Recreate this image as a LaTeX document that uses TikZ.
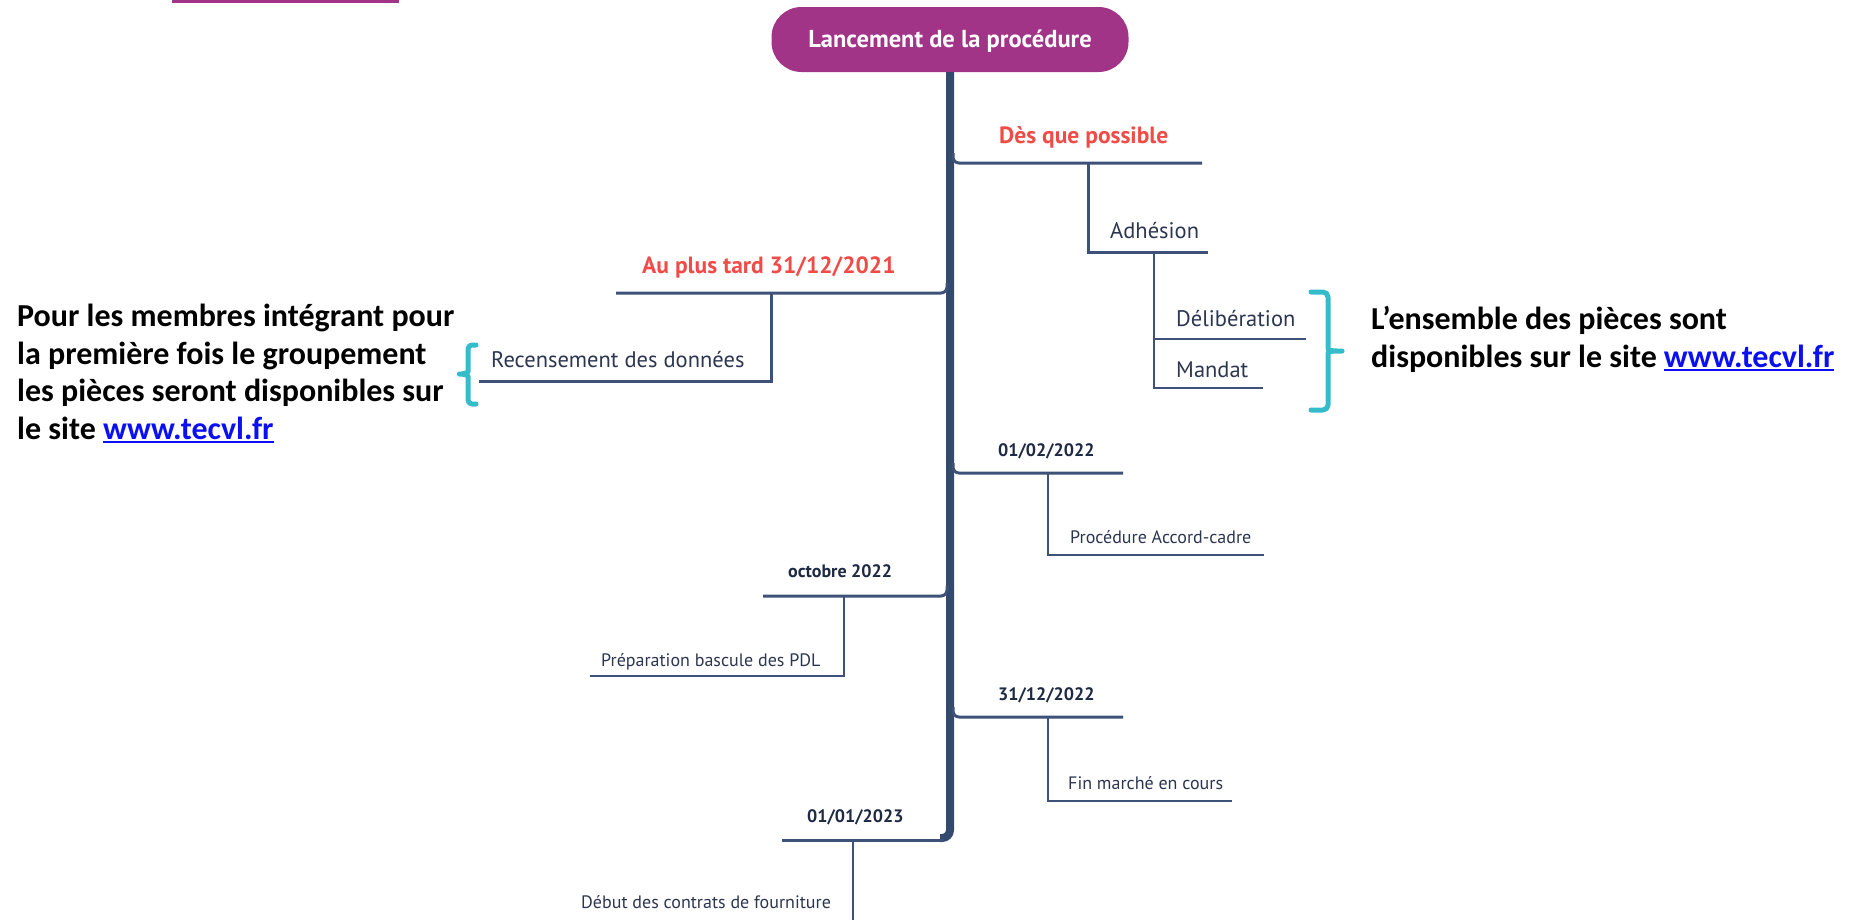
\documentclass[tikz,border=0pt]{standalone}
\usepackage{fontspec}
\setmainfont{PT Sans}
\newfontfamily\notefont{Carlito}
\definecolor{purp}{HTML}{A23488}
\definecolor{navy}{HTML}{34496E}
\definecolor{lnav}{HTML}{3E5279}
\definecolor{redt}{HTML}{F04B47}
\definecolor{dtxt}{HTML}{1E2A44}
\definecolor{rtxt}{HTML}{2C3650}
\definecolor{cyanb}{HTML}{35BCCB}
\definecolor{linkb}{HTML}{0A10F2}
\newcommand\ulink[1]{\textcolor{linkb}{\setbox0\hbox{#1}\rlap{\rule[-4pt]{\wd0}{2pt}}\box0}}
\begin{document}
\begin{tikzpicture}[x=1pt,y=-1pt,
  lbl/.style={inner sep=0pt, anchor=base west},
  titlebox/.style={fill=purp, rounded corners=30pt, minimum width=357pt, minimum height=65pt,
    inner sep=0pt, text=white, text height=16pt, text depth=0pt, font=\bfseries\fontsize{24.5}{28}\selectfont},
  redlbl/.style={lbl, text=redt, font=\bfseries\fontsize{23.5}{27}\selectfont},
  midlbl/.style={lbl, text=rtxt, font=\fontsize{22.5}{26}\selectfont},
  datelbl/.style={lbl, text=dtxt, font=\bfseries\fontsize{18}{21}\selectfont},
  smalllbl/.style={lbl, text=rtxt, font=\fontsize{18}{21}\selectfont},
  notelbl/.style={inner sep=0pt, anchor=base west, align=left, text=black,
    font=\notefont\bfseries\fontsize{32}{37.5}\selectfont},
  trunk/.style={draw=navy, line width=8pt},
  br1/.style={draw=lnav, line width=3pt},
  br2/.style={draw=lnav, line width=2.5pt},
  br3/.style={draw=lnav, line width=2pt},
  brace/.style={draw=cyanb, line width=5pt, line cap=round, line join=round, rounded corners=5pt}
]
\useasboundingbox (0,0) rectangle (1857,919);
\fill[purp] (172,0) rectangle (399,3);

% root
\node[titlebox] (root) at (950,39.5) {Lancement de la procédure};
\coordinate (tkB) at (950,838);
\coordinate (tkC) at (940,838);
\draw[trunk, rounded corners=8pt] (root.south) -- (tkB) -- (tkC);

% ---- Dès que possible
\coordinate (a0) at (953,163); \coordinate (a1) at (1202,163);
\coordinate (a2) at (1088,163); \coordinate (a3) at (1088,252); \coordinate (a4) at (1208,252);
\coordinate (b0) at (1154,252); \coordinate (b1) at (1154,388); \coordinate (b2) at (1263,388);
\coordinate (b3) at (1154,339); \coordinate (b4) at (1306,339);
\draw[br1, rounded corners=6pt] ([yshift=10pt]a0) -- (a0) -- (a1);
\draw[br1] (a2) -- (a3) -- (a4);
\draw[br3] (b0) -- (b1) -- (b2);
\draw[br3] (b3) -- (b4);
\node[redlbl] (dqp) at (999,143) {Dès que possible};
\node[midlbl] (adh) at (1110,238) {Adhésion};
\node[midlbl] (delib) at (1176,326) {Délibération};
\node[midlbl] (mand) at (1176,377) {Mandat};

% ---- Au plus tard
\coordinate (c0) at (947,293); \coordinate (c1) at (616,293);
\coordinate (c2) at (771,293); \coordinate (c3) at (771,381); \coordinate (c4) at (479,381);
\draw[br1, rounded corners=6pt] ([yshift=10pt]c0) -- (c0) -- (c1);
\draw[br1] (c2) -- (c3) -- (c4);
\node[redlbl] (apt) at (642,273) {Au plus tard 31/12/2021};
\node[midlbl] (rec) at (491,367) {Recensement des données};

% ---- 01/02/2022
\coordinate (d0) at (953,473); \coordinate (d1) at (1123,473);
\coordinate (d2) at (1048,473); \coordinate (d3) at (1048,555); \coordinate (d4) at (1264,555);
\draw[br1, rounded corners=6pt] ([yshift=10pt]d0) -- (d0) -- (d1);
\draw[br2] (d2) -- (d3) -- (d4);
\node[datelbl] (d22) at (998,456) {01/02/2022};
\node[smalllbl] (proc) at (1070,543) {Procédure Accord-cadre};

% ---- octobre 2022
\coordinate (e0) at (947,596); \coordinate (e1) at (763,596);
\coordinate (e2) at (844,596); \coordinate (e3) at (844,676); \coordinate (e4) at (590,676);
\draw[br1, rounded corners=6pt] ([yshift=10pt]e0) -- (e0) -- (e1);
\draw[br2] (e2) -- (e3) -- (e4);
\node[datelbl] (oct) at (788,577) {octobre 2022};
\node[smalllbl] (prep) at (601,666) {Préparation bascule des PDL};

% ---- 31/12/2022
\coordinate (f0) at (953,717); \coordinate (f1) at (1123,717);
\coordinate (f2) at (1048,717); \coordinate (f3) at (1048,801); \coordinate (f4) at (1232,801);
\draw[br1, rounded corners=6pt] ([yshift=10pt]f0) -- (f0) -- (f1);
\draw[br2] (f2) -- (f3) -- (f4);
\node[datelbl] (d3112) at (998,700) {31/12/2022};
\node[smalllbl] (fin) at (1068,789) {Fin marché en cours};

% ---- 01/01/2023
\coordinate (g0) at (944,840); \coordinate (g1) at (782,840);
\coordinate (g2) at (853,840); \coordinate (g3) at (853,925);
\draw[br1] (g0) -- (g1);
\draw[br2] (g2) -- (g3);
\node[datelbl] (d0101) at (807,822) {01/01/2023};
\node[smalllbl] (debut) at (581,908) {Début des contrats de fourniture};

% ---- braces and notes
\coordinate (rb0) at (1311,292); \coordinate (rb1) at (1328,292); \coordinate (rb2) at (1328,344);
\coordinate (rbt) at (1345,351); \coordinate (rb3) at (1328,358); \coordinate (rb4) at (1328,410);
\coordinate (rb5) at (1311,410);
\draw[brace] (rb0) -- (rb1) -- (rb2) to[out=-90,in=180] (rbt) to[out=180,in=90] (rb3) -- (rb4) -- (rb5);
\coordinate (lb0) at (476,345); \coordinate (lb1) at (468,345); \coordinate (lb2) at (468,368);
\coordinate (lbt) at (457,374); \coordinate (lb3) at (468,380); \coordinate (lb4) at (468,404);
\coordinate (lb5) at (476,404);
\draw[brace, rounded corners=4pt] (lb0) -- (lb1) -- (lb2) to[out=-90,in=0] (lbt) to[out=0,in=90] (lb3) -- (lb4) -- (lb5);

\node[notelbl] (lnote) at (17,439) {Pour les membres intégrant pour\\la première fois le groupement\\les pièces seront disponibles sur\\le site \ulink{www.tecvl.fr}};
\node[notelbl] (rnote) at (1371,367) {L’ensemble des pièces sont\\disponibles sur le site \ulink{www.tecvl.fr}};
\end{tikzpicture}
\end{document}
